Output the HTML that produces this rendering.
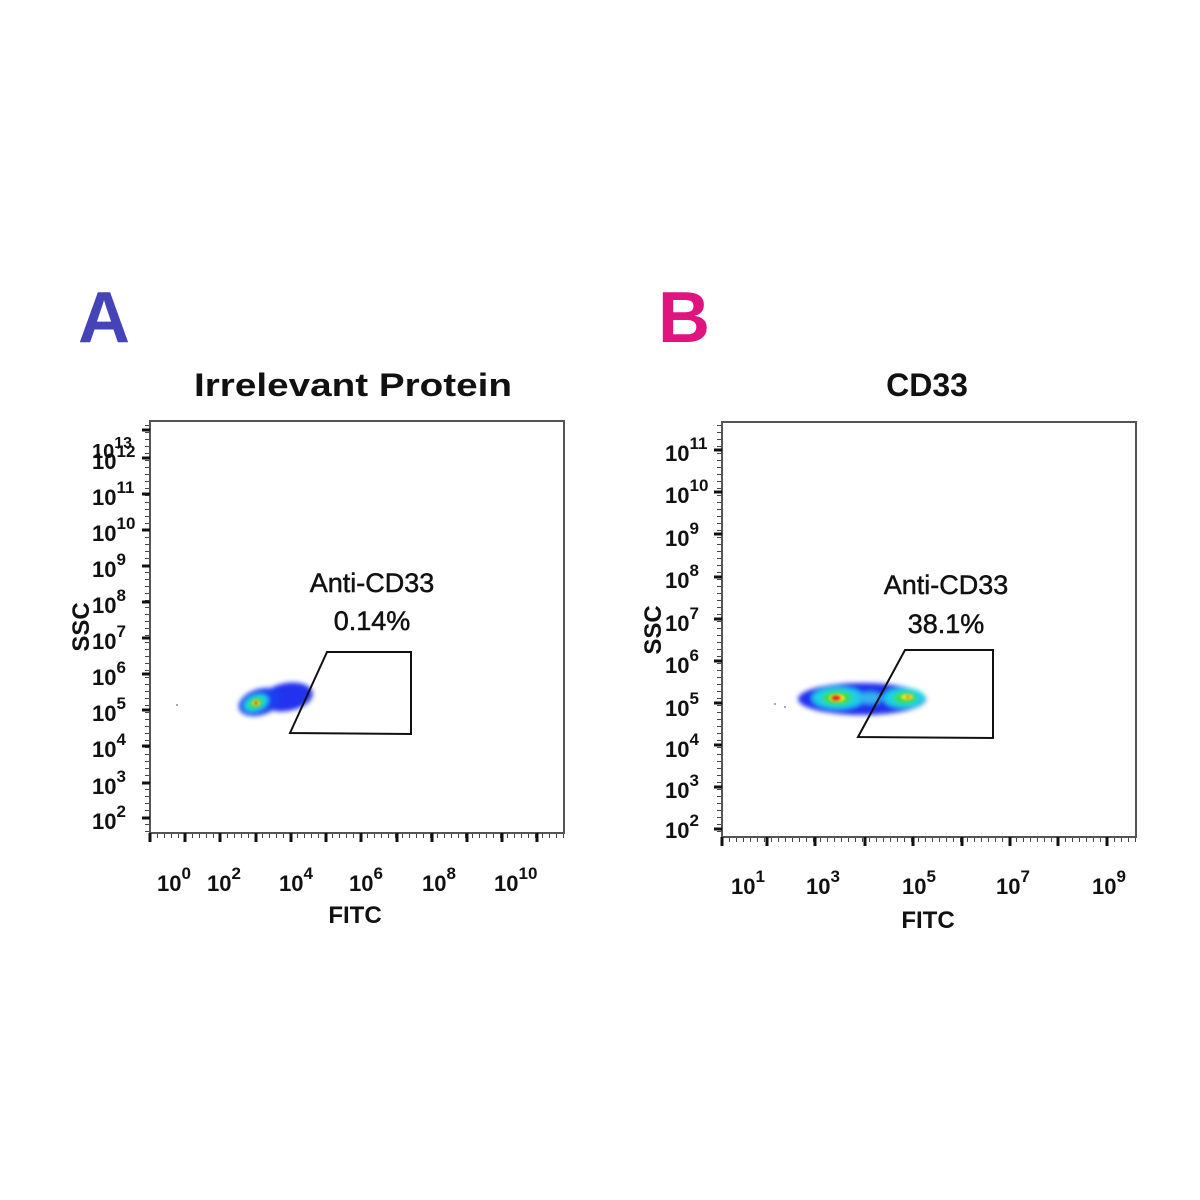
<!DOCTYPE html>
<html><head><meta charset="utf-8"><style>
html,body{margin:0;padding:0;background:#fff;width:1200px;height:1200px;overflow:hidden}
svg text{font-family:"Liberation Sans",Arial,sans-serif;font-weight:bold;fill:#111}
</style></head><body>
<svg width="1200" height="1200" viewBox="0 0 1200 1200" xmlns="http://www.w3.org/2000/svg">
<defs>
<filter id="bl" x="-50%" y="-50%" width="200%" height="200%"><feGaussianBlur stdDeviation="2.5"/></filter>
<filter id="bl2" x="-50%" y="-50%" width="200%" height="200%"><feGaussianBlur stdDeviation="1.2"/></filter>
</defs>
<text x="78" y="342" font-size="72" style="fill:#4444b8">A</text>
<text x="658" y="342" font-size="72" style="fill:#e0147f">B</text>
<text x="353" y="396" font-size="32" text-anchor="middle" textLength="318" lengthAdjust="spacingAndGlyphs">Irrelevant Protein</text>
<text x="927" y="396" font-size="32" text-anchor="middle">CD33</text>

<!-- Panel A -->
<rect x="150" y="421" width="414" height="412" fill="none" stroke="#555" stroke-width="2"/>
<line x1="147" y1="425" x2="147" y2="833" stroke="#444" stroke-width="4" stroke-dasharray="1 6"/>
<line x1="150" y1="836" x2="564" y2="836" stroke="#444" stroke-width="4" stroke-dasharray="1 6"/>
<g stroke="#111" stroke-width="3">
<line x1="142" y1="818" x2="150" y2="818"/><line x1="142" y1="783" x2="150" y2="783"/><line x1="142" y1="746" x2="150" y2="746"/><line x1="142" y1="710" x2="150" y2="710"/><line x1="142" y1="674" x2="150" y2="674"/><line x1="142" y1="638" x2="150" y2="638"/><line x1="142" y1="602" x2="150" y2="602"/><line x1="142" y1="566" x2="150" y2="566"/><line x1="142" y1="530" x2="150" y2="530"/><line x1="142" y1="494" x2="150" y2="494"/><line x1="142" y1="458" x2="150" y2="458"/><line x1="142" y1="430" x2="150" y2="430"/>
<line x1="150" y1="833" x2="150" y2="842"/><line x1="185" y1="833" x2="185" y2="842"/><line x1="220" y1="833" x2="220" y2="842"/><line x1="256" y1="833" x2="256" y2="842"/><line x1="291" y1="833" x2="291" y2="842"/><line x1="326" y1="833" x2="326" y2="842"/><line x1="361" y1="833" x2="361" y2="842"/><line x1="397" y1="833" x2="397" y2="842"/><line x1="432" y1="833" x2="432" y2="842"/><line x1="467" y1="833" x2="467" y2="842"/><line x1="502" y1="833" x2="502" y2="842"/><line x1="537" y1="833" x2="537" y2="842"/>
</g>
<g font-size="22">
<text x="92" y="829">10<tspan font-size="17" dy="-12">2</tspan></text>
<text x="92" y="794">10<tspan font-size="17" dy="-12">3</tspan></text>
<text x="92" y="757">10<tspan font-size="17" dy="-12">4</tspan></text>
<text x="92" y="721">10<tspan font-size="17" dy="-12">5</tspan></text>
<text x="92" y="685">10<tspan font-size="17" dy="-12">6</tspan></text>
<text x="92" y="649">10<tspan font-size="17" dy="-12">7</tspan></text>
<text x="92" y="613">10<tspan font-size="17" dy="-12">8</tspan></text>
<text x="92" y="577">10<tspan font-size="17" dy="-12">9</tspan></text>
<text x="92" y="541">10<tspan font-size="17" dy="-12">10</tspan></text>
<text x="92" y="505">10<tspan font-size="17" dy="-12">11</tspan></text>
<text x="92" y="469">10<tspan font-size="17" dy="-12">12</tspan></text>
<text x="92" y="458" font-size="20">10<tspan font-size="16" dy="-10">13</tspan></text>
<text x="157" y="891">10<tspan font-size="17" dy="-12">0</tspan></text>
<text x="207" y="891">10<tspan font-size="17" dy="-12">2</tspan></text>
<text x="279" y="891">10<tspan font-size="17" dy="-12">4</tspan></text>
<text x="349" y="891">10<tspan font-size="17" dy="-12">6</tspan></text>
<text x="422" y="891">10<tspan font-size="17" dy="-12">8</tspan></text>
<text x="494" y="891">10<tspan font-size="17" dy="-12">10</tspan></text>
</g>
<text x="355" y="923" font-size="24" text-anchor="middle">FITC</text>
<text transform="translate(89,627) rotate(-90)" font-size="24" text-anchor="middle">SSC</text>
<text x="372" y="592" font-size="27" text-anchor="middle" style="font-weight:normal;stroke:#111;stroke-width:0.5">Anti-CD33</text>
<text x="372" y="630" font-size="27" text-anchor="middle" style="font-weight:normal;stroke:#111;stroke-width:0.5">0.14%</text>
<!-- blob A -->
<g filter="url(#bl)">
<ellipse cx="287" cy="697" rx="26" ry="14" fill="#2233ee" transform="rotate(-10 287 697)"/>
<ellipse cx="260" cy="702" rx="22" ry="13" fill="#1a3cf0" transform="rotate(-18 260 702)"/>
<ellipse cx="256" cy="703" rx="13" ry="8" fill="#1ccfe8" transform="rotate(-22 256 703)"/>
<ellipse cx="256" cy="703" rx="8" ry="5" fill="#39e03a" transform="rotate(-22 256 703)"/>
</g>
<g filter="url(#bl2)">
<ellipse cx="256" cy="703" rx="4" ry="3" fill="#f5e020"/>
<circle cx="256" cy="703" r="2" fill="#e8201a"/>
</g>
<circle cx="177" cy="705" r="1" fill="#88a"/>
<polygon points="290,733 327,652 411,652 411,734" fill="none" stroke="#111" stroke-width="2"/>

<!-- Panel B -->
<rect x="722" y="422" width="414" height="415" fill="none" stroke="#555" stroke-width="2"/>
<line x1="719" y1="425" x2="719" y2="837" stroke="#444" stroke-width="4" stroke-dasharray="1 6"/>
<line x1="722" y1="840" x2="1136" y2="840" stroke="#444" stroke-width="4" stroke-dasharray="1 6"/>
<g stroke="#111" stroke-width="3">
<line x1="714" y1="829" x2="722" y2="829"/><line x1="714" y1="787" x2="722" y2="787"/><line x1="714" y1="745" x2="722" y2="745"/><line x1="714" y1="703" x2="722" y2="703"/><line x1="714" y1="661" x2="722" y2="661"/><line x1="714" y1="619" x2="722" y2="619"/><line x1="714" y1="577" x2="722" y2="577"/><line x1="714" y1="534" x2="722" y2="534"/><line x1="714" y1="492" x2="722" y2="492"/><line x1="714" y1="450" x2="722" y2="450"/>
<line x1="722" y1="837" x2="722" y2="846"/><line x1="767" y1="837" x2="767" y2="846"/><line x1="815" y1="837" x2="815" y2="846"/><line x1="865" y1="837" x2="865" y2="846"/><line x1="913" y1="837" x2="913" y2="846"/><line x1="962" y1="837" x2="962" y2="846"/><line x1="1010" y1="837" x2="1010" y2="846"/><line x1="1058" y1="837" x2="1058" y2="846"/><line x1="1107" y1="837" x2="1107" y2="846"/>
</g>
<g font-size="22">
<text x="665" y="838">10<tspan font-size="17" dy="-12">2</tspan></text>
<text x="665" y="798">10<tspan font-size="17" dy="-12">3</tspan></text>
<text x="665" y="757">10<tspan font-size="17" dy="-12">4</tspan></text>
<text x="665" y="716">10<tspan font-size="17" dy="-12">5</tspan></text>
<text x="665" y="673">10<tspan font-size="17" dy="-12">6</tspan></text>
<text x="665" y="631">10<tspan font-size="17" dy="-12">7</tspan></text>
<text x="665" y="588">10<tspan font-size="17" dy="-12">8</tspan></text>
<text x="665" y="546">10<tspan font-size="17" dy="-12">9</tspan></text>
<text x="665" y="503">10<tspan font-size="17" dy="-12">10</tspan></text>
<text x="665" y="461">10<tspan font-size="17" dy="-12">11</tspan></text>
<text x="731" y="894">10<tspan font-size="17" dy="-12">1</tspan></text>
<text x="806" y="894">10<tspan font-size="17" dy="-12">3</tspan></text>
<text x="902" y="894">10<tspan font-size="17" dy="-12">5</tspan></text>
<text x="996" y="894">10<tspan font-size="17" dy="-12">7</tspan></text>
<text x="1092" y="894">10<tspan font-size="17" dy="-12">9</tspan></text>
</g>
<text x="928" y="928" font-size="24" text-anchor="middle">FITC</text>
<text transform="translate(661,630) rotate(-90)" font-size="24" text-anchor="middle">SSC</text>
<text x="946" y="594" font-size="27" text-anchor="middle" style="font-weight:normal;stroke:#111;stroke-width:0.5">Anti-CD33</text>
<text x="946" y="633" font-size="27" text-anchor="middle" style="font-weight:normal;stroke:#111;stroke-width:0.5">38.1%</text>
<!-- blob B -->
<g filter="url(#bl)">
<ellipse cx="862" cy="699" rx="64" ry="16" fill="#2233ee"/>
<ellipse cx="838" cy="698" rx="26" ry="11" fill="#1ccfe8"/>
<ellipse cx="904" cy="698" rx="21" ry="10" fill="#1ccfe8"/>
<ellipse cx="870" cy="698" rx="12" ry="6" fill="#30b0f0"/>
<ellipse cx="837" cy="698" rx="15" ry="7" fill="#39e03a"/>
<ellipse cx="905" cy="698" rx="12" ry="6" fill="#39e03a"/>
</g>
<g filter="url(#bl2)">
<ellipse cx="837" cy="698" rx="8" ry="4" fill="#f5e020"/>
<ellipse cx="836" cy="698" rx="5" ry="3" fill="#e8201a"/>
<ellipse cx="907" cy="697" rx="6" ry="3" fill="#f0e030"/>
<circle cx="908" cy="697" r="2" fill="#f09020"/>
</g>
<circle cx="775" cy="704" r="1" fill="#88a"/><circle cx="785" cy="707" r="1" fill="#88a"/>
<polygon points="858,737 905,650 993,650 993,738" fill="none" stroke="#111" stroke-width="2"/>
</svg>
</body></html>
